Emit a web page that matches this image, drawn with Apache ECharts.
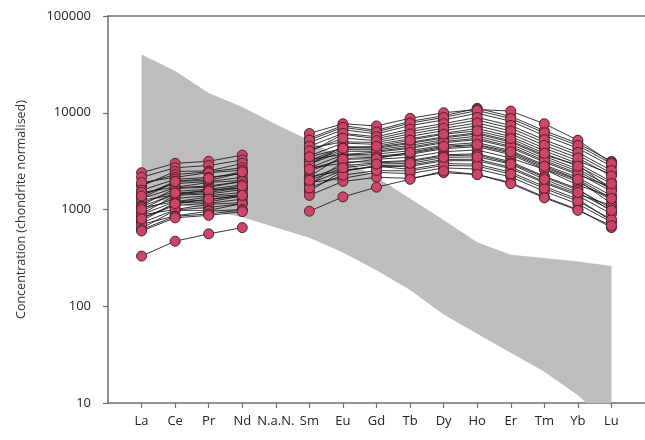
<!DOCTYPE html>
<html>
<head>
<meta charset="utf-8">
<script src="https://cdn.jsdelivr.net/npm/echarts@6/dist/echarts.min.js"></script>
<style>html,body{margin:0;padding:0;background:#fff}#chart{width:645px;height:440px}</style>
</head>
<body>
<div id="chart"></div>
<script>
// Categories (element names along x)
const categories = ['La','Ce','Pr','Nd','N.a.N.','Sm','Eu','Gd','Tb','Dy','Ho','Er','Tm','Yb','Lu'];
const yTickLabels = [10, 100, 1000, 10000, 100000];

// Grey reference field (upper and lower edges)
const bandUpper = [40000, 27000, 16000, 11500, 7600, 5200, 3300, 2150, 1300, 780, 460, 340, 315, 290, 260];
const bandLower = [1400, 1150, 980, 830, 650, 510, 360, 236, 147, 82, 52, 33, 21, 12, 6];

// Samples: light REE (La, Ce, Pr, Nd)
const lreeValues = [
  [2400, 3000, 3150, 3650],
  [2150, 2700, 2850, 3250],
  [1750, 2480, 2500, 3000],
  [1820, 2300, 2450, 2700],
  [1900, 2150, 2400, 2550],
  [1580, 2050, 2150, 2350],
  [1300, 1950, 2000, 2400],
  [1420, 1850, 1950, 2150],
  [1500, 1700, 1900, 2000],
  [1290, 1680, 1750, 1950],
  [1100, 1650, 1700, 1950],
  [1170, 1540, 1620, 1800],
  [1250, 1420, 1600, 1650],
  [1080, 1430, 1500, 1680],
  [900, 1400, 1450, 1600],
  [980, 1300, 1390, 1500],
  [1050, 1200, 1350, 1420],
  [890, 1200, 1260, 1390],
  [760, 1170, 1200, 1380],
  [820, 1100, 1160, 1280],
  [880, 1000, 1130, 1180],
  [730, 990, 1050, 1150],
  [640, 980, 980, 1150],
  [700, 860, 960, 1000],
  [620, 850, 900, 990],
  [600, 820, 870, 950],
  [1380, 1950, 2100, 2450],
  [1000, 1480, 1550, 1750],
  [800, 1150, 1280, 1400],
  [330, 470, 560, 650]
];

// Samples: middle/heavy REE (Sm, Eu, Gd, Tb, Dy, Ho, Er, Tm, Yb, Lu)
const hreeValues = [
  [5430, 7370, 6580, 8150, 9310, 11100, 9180, 6520, 4830, 3140],
  [6100, 7700, 7300, 8760, 10000, 10800, 10400, 7700, 5200, 3050],
  [4910, 6670, 6050, 7370, 8420, 9890, 8170, 5810, 4300, 2800],
  [3900, 6000, 5390, 6400, 7320, 8400, 6940, 4930, 3650, 2370],
  [5210, 7070, 6340, 7810, 8930, 10560, 8720, 6200, 4590, 2980],
  [4300, 5000, 4930, 5710, 6530, 7340, 6060, 4310, 3190, 2300],
  [4510, 6120, 5650, 6760, 7730, 8950, 7390, 5250, 3890, 2530],
  [2900, 4470, 4400, 4940, 5640, 6210, 5130, 3650, 2900, 1600],
  [3580, 4860, 4710, 5380, 6140, 6880, 5680, 4040, 2990, 1940],
  [3300, 3700, 3920, 4280, 4900, 5270, 4350, 3090, 2290, 1700],
  [4030, 5470, 5150, 6050, 6910, 7840, 6480, 4600, 3410, 2220],
  [3070, 4160, 4140, 4600, 5260, 5730, 4730, 3360, 2490, 1620],
  [2200, 3600, 3560, 3820, 4370, 4620, 3820, 2710, 2010, 1150],
  [3210, 4350, 4290, 4810, 5500, 6030, 4980, 3540, 2620, 1700],
  [2700, 3670, 3740, 4050, 4630, 4920, 4070, 2890, 2140, 1390],
  [2700, 3000, 3300, 3470, 3960, 4120, 3400, 2600, 1790, 1350],
  [2940, 3990, 4000, 4410, 5040, 5450, 4500, 3200, 2370, 1540],
  [1800, 3100, 3100, 3210, 3670, 3770, 3120, 2210, 1640, 950],
  [2480, 3360, 3480, 3720, 4250, 4460, 3690, 2620, 1940, 1260],
  [2200, 2500, 2840, 2880, 3290, 3310, 2740, 1940, 1440, 1100],
  [2090, 2830, 3040, 3130, 3580, 3660, 3020, 2150, 1590, 1030],
  [1550, 2500, 2800, 2600, 2980, 2940, 2430, 1730, 1280, 760],
  [1860, 2530, 2770, 2790, 3190, 3200, 2640, 1880, 1390, 900],
  [1900, 2100, 2420, 2350, 2690, 2620, 2170, 1540, 1140, 740],
  [1400, 1950, 2150, 2100, 2400, 2300, 1900, 1350, 1000, 650],
  [1670, 2260, 2530, 2500, 2860, 2810, 2320, 1650, 1220, 790],
  [3500, 4300, 4500, 5200, 6000, 6500, 5400, 3800, 2800, 1850],
  [2600, 3300, 3350, 3900, 4500, 4700, 3950, 2800, 2050, 1300],
  [2000, 2700, 2950, 3000, 3450, 3500, 2950, 2050, 1500, 980],
  [960, 1350, 1700, 2050, 2500, 2300, 1850, 1320, 980, 680]
];

// Axis data padded with blank slots at both ends
const axisCats = [''].concat(categories, ['']);
const FONT = 'Open Sans';

const series = [];
series.push({
  type: 'custom',
  silent: true,
  clip: true,
  z: 1,
  data: [[1, 1000]],
  renderItem: function (params, api) {
    const pts = [];
    for (let i = 0; i < bandUpper.length; i++) pts.push(api.coord([i + 1, bandUpper[i]]));
    for (let i = bandLower.length - 1; i >= 0; i--) pts.push(api.coord([i + 1, bandLower[i]]));
    return { type: 'polygon', shape: { points: pts }, style: { fill: '#bdbdbd' } };
  }
});

for (let s = 0; s < lreeValues.length; s++) {
  const row = [null].concat(lreeValues[s], [null], hreeValues[s], [null]);
  series.push({
    type: 'line',
    data: row,
    connectNulls: false,
    symbol: 'circle',
    symbolSize: 10,
    showSymbol: true,
    z: 2,
    silent: true,
    lineStyle: { color: '#151515', width: 1, opacity: 0.85 },
    itemStyle: { color: '#cf4565', borderColor: '#4a2230', borderWidth: 1 },
    emphasis: { disabled: true }
  });
}

const chart = echarts.init(document.getElementById('chart'), null, { renderer: 'canvas' });
const axisColor = '#6e6e6e';
chart.setOption({
  animation: false,
  backgroundColor: '#ffffff',
  grid: { left: 108, right: 0, top: 16, bottom: 37, containLabel: false },
  xAxis: [{
    type: 'category',
    data: axisCats,
    boundaryGap: false,
    axisLine: { show: true, lineStyle: { color: axisColor, width: 1.5 } },
    axisTick: { show: true, length: 5, interval: function (i, v) { return v !== ''; }, lineStyle: { color: axisColor, width: 1.2 } },
    axisLabel: { interval: function (i, v) { return v !== ''; }, margin: 12, fontSize: 13, color: '#222', fontFamily: FONT },
    splitLine: { show: false }
  }, {
    type: 'category',
    data: axisCats,
    position: 'top',
    boundaryGap: false,
    axisLine: { show: true, lineStyle: { color: axisColor, width: 1.5 } },
    axisTick: { show: false },
    axisLabel: { show: false },
    splitLine: { show: false }
  }],
  yAxis: {
    type: 'log',
    logBase: 10,
    min: yTickLabels[0],
    max: yTickLabels[yTickLabels.length - 1],
    name: 'Concentration (chondrite normalised)',
    nameLocation: 'middle',
    nameRotate: 90,
    nameGap: 80,
    nameTextStyle: { fontSize: 12.5, color: '#333', fontFamily: FONT },
    axisLine: { show: true, lineStyle: { color: axisColor, width: 1.5 } },
    axisTick: { show: true, length: 5, lineStyle: { color: axisColor, width: 1.2 } },
    axisLabel: { margin: 17, fontSize: 13, color: '#222', fontFamily: FONT, formatter: function (v) { return String(Math.round(v)); } },
    splitLine: { show: false },
    minorTick: { show: false }
  },
  series: series
});
</script>
</body>
</html>
